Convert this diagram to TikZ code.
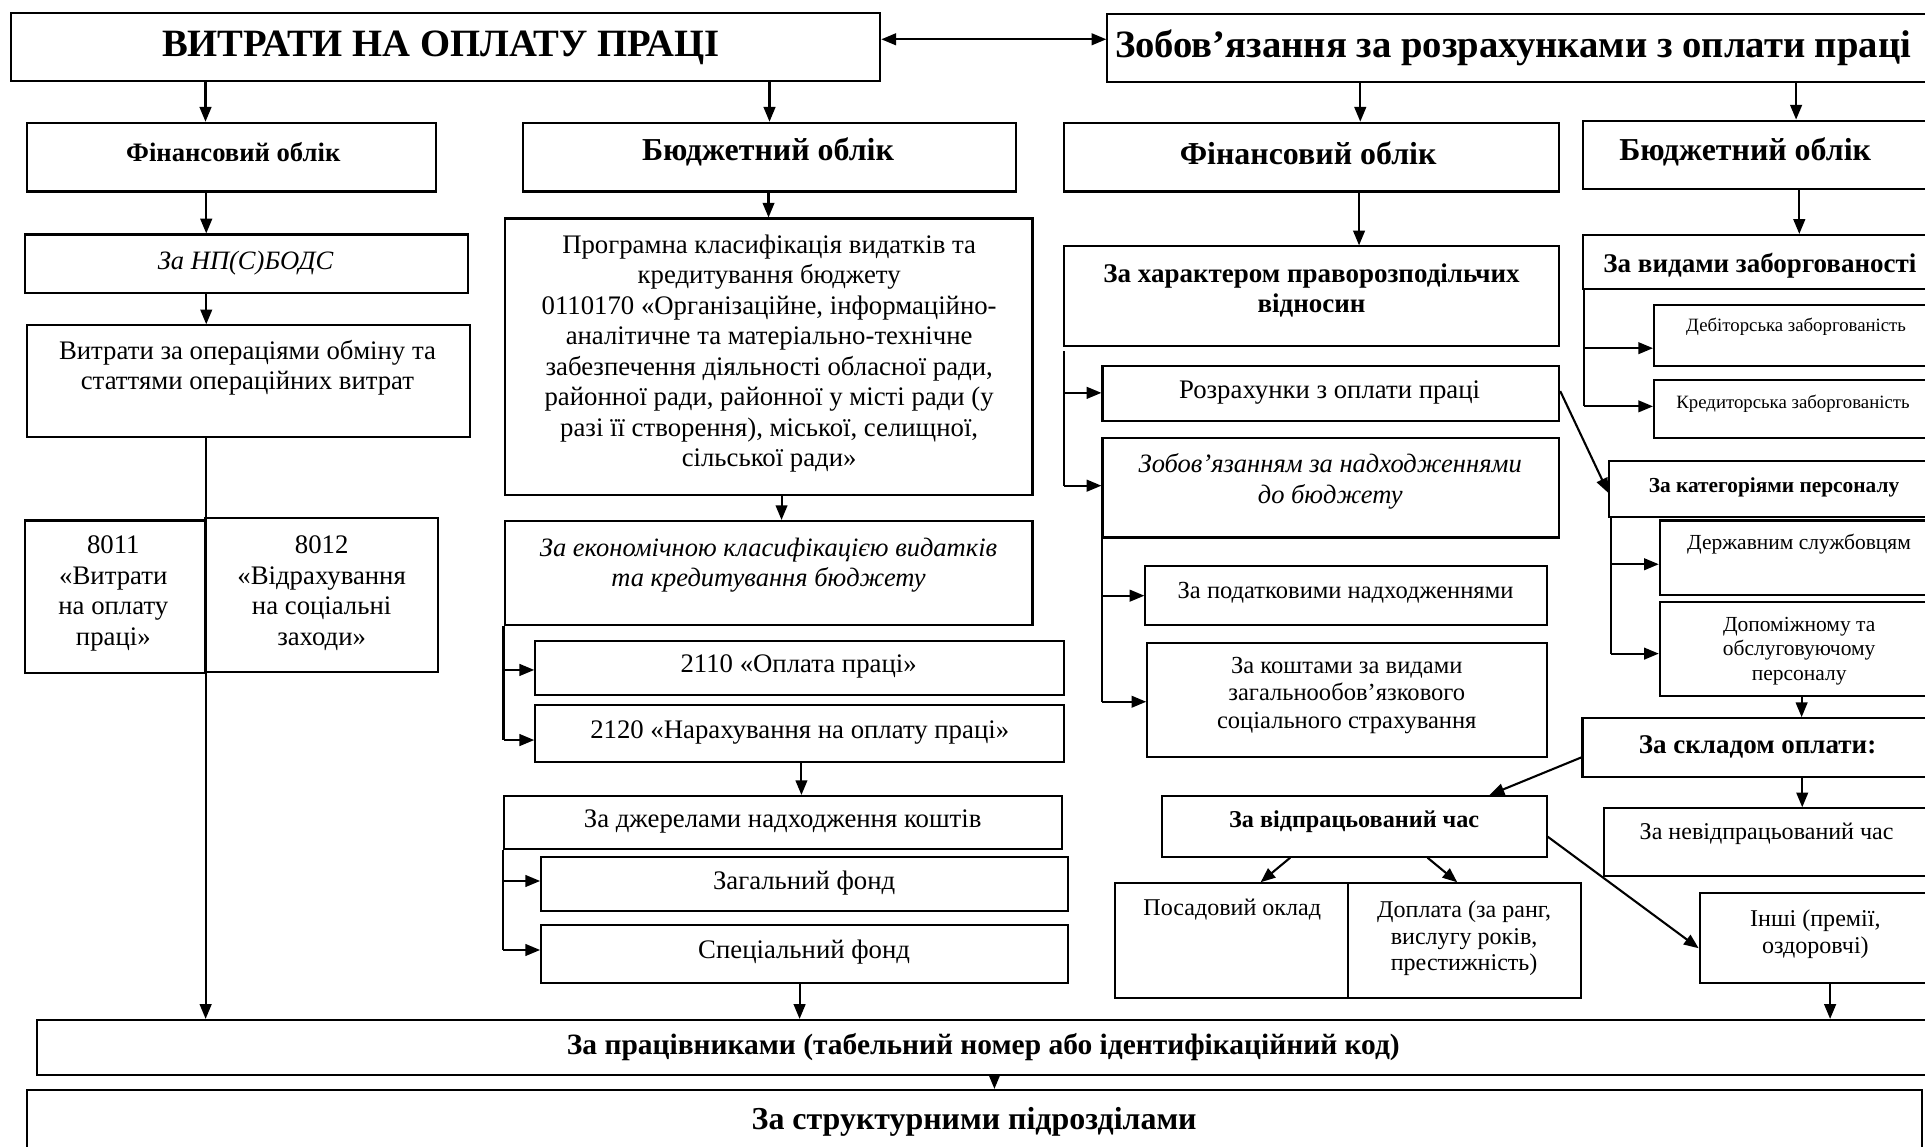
\documentclass[tikz,border=0pt]{standalone}
\usepackage{fontspec}
\setmainfont{Liberation Serif}
\usetikzlibrary{arrows.meta,fit}

\tikzset{
  box/.style={draw, line width=1.7pt, inner sep=0pt},
  ln/.style={line width=1.7pt},
  arr/.style={line width=1.7pt, -{Triangle[length=12pt,width=9.5pt]}},
  darr/.style={line width=1.7pt, {Triangle[length=12pt,width=9.5pt]}-{Triangle[length=12pt,width=9.5pt]}},
  txt/.style={inner sep=0pt, align=center},
  ttitle/.style={txt, font=\fontsize{31.5}{36}\bfseries\selectfont},
  thead/.style={txt, font=\fontsize{26}{30}\bfseries\selectfont},
  theads/.style={txt, font=\fontsize{21.7}{25}\bfseries\selectfont},
  tbold/.style={txt, font=\fontsize{22}{24.8}\bfseries\selectfont},
  tboldm/.style={txt, font=\fontsize{24}{27}\bfseries\selectfont},
  tboldn/.style={txt, font=\fontsize{19.7}{22}\bfseries\selectfont},
  tbolds/.style={txt, font=\fontsize{17.4}{20}\bfseries\selectfont},
  treg/.style={txt, font=\fontsize{21.8}{24.8}\selectfont},
  tit/.style={txt, font=\fontsize{21.6}{24.8}\itshape\selectfont},
  tmid/.style={txt, font=\fontsize{20}{22.5}\selectfont},
  tsm/.style={txt, font=\fontsize{19.6}{21.7}\selectfont},
  tsmm/.style={txt, font=\fontsize{17.5}{20}\selectfont},
  txs/.style={txt, font=\fontsize{15.3}{18}\selectfont},
}
% a framed box given by its two corners
\newcommand\frbox[5]{\node[box, fit={(#2,#3) (#4,#5)}] (#1) {};}

\begin{document}
\begin{tikzpicture}[x=1pt, y=-1pt]
\useasboundingbox (0,0) rectangle (1568,934);
\clip (0,0) rectangle (1568,934);

% ---- boxes ----
\frbox{A}{8.6}{10.3}{717}{65.7}
\frbox{B}{902}{11.4}{1574}{66.5}
\frbox{C}{21.7}{100}{355}{156}
\frbox{D}{425.7}{100}{827.4}{156}
\frbox{E}{866.6}{100}{1270}{156}
\frbox{F}{1289.5}{98.3}{1580}{154}
\frbox{G}{20}{191}{381}{239}
\frbox{H}{22}{265}{383}{356}
\frbox{K8011}{20}{424}{167}{548}
\frbox{K8012}{167}{422}{357}{547}
\frbox{I}{411}{178}{841}{403}
\frbox{J}{411}{424.4}{841}{509}
\frbox{K}{436}{521.8}{866.4}{566}
\frbox{L}{436}{574}{866.4}{620.4}
\frbox{M}{410.3}{648.4}{865.4}{691.8}
\frbox{N}{440.8}{697.8}{870}{741.8}
\frbox{O}{440.8}{753.4}{870}{800.4}
\frbox{P}{30}{830.8}{1574}{875.6}
\frbox{Q}{22}{887.8}{1565.3}{960}
\frbox{R}{866.7}{200.7}{1270}{282.2}
\frbox{S}{898}{298}{1270}{342.7}
\frbox{T}{898}{356.4}{1270}{437.8}
\frbox{U}{933}{461}{1260}{509}
\frbox{V}{934.5}{523.6}{1260}{616.5}
\frbox{W}{1289.2}{191.4}{1580}{235.5}
\frbox{X}{1347.3}{248.8}{1580}{298}
\frbox{Y}{1347.3}{309.8}{1580}{356.4}
\frbox{Z}{1310.9}{375.8}{1580}{421}
\frbox{AA}{1352}{424}{1580}{485}
\frbox{AB}{1352}{490}{1580}{567}
\frbox{AC}{1289}{585}{1580}{633}
\frbox{AD}{1306.4}{658.4}{1580}{713.5}
\frbox{AE}{946.4}{648.4}{1259.8}{697.8}
\frbox{AF}{908.2}{719.5}{1097.9}{812.6}
\frbox{AG}{1097.9}{719.5}{1288}{812.6}
\frbox{AH}{1384.5}{727.1}{1580}{801}

% ---- texts ----
\node[ttitle] (At) at (359,39) {ВИТРАТИ НА ОПЛАТУ ПРАЦІ};
\node[ttitle] (Bt) at (1232.5,39) {Зобов’язання за розрахунками з оплати праці};
\node[theads] (Ct) at (190,124) {Фінансовий облік};
\node[thead] (Dt) at (625.6,124) {Бюджетний облік};
\node[thead] (Et) at (1065.5,125) {Фінансовий облік};
\node[thead] (Ft) at (1421.5,124) {Бюджетний облік};
\node[tit] (Gt) at (200,214.5) {За НП(С)БОДС};
\node[treg] (Ht) at (201.6,299.7) {Витрати за операціями обміну та\\статтями операційних витрат};
\node[treg] (K8011t) at (92.3,483.3) {8011\\«Витрати\\на оплату\\праці»};
\node[treg] (K8012t) at (262,483.3) {8012\\«Відрахування\\на соціальні\\заходи»};
\node[treg] (It) at (626.5,287.9) {Програмна класифікація видатків та\\кредитування бюджету\\0110170 «Організаційне, інформаційно-\\аналітичне та матеріально-технічне\\забезпечення діяльності обласної ради,\\районної ради, районної у місті ради (у\\разі її створення), міської, селищної,\\сільської ради»};
\node[tit] (Jt) at (626,460.2) {За економічною класифікацією видатків\\та кредитування бюджету};
\node[treg] (Kt) at (650.5,543) {2110 «Оплата праці»};
\node[treg] (Lt) at (651.4,597) {2120 «Нарахування на оплату праці»};
\node[treg] (Mt) at (637.5,669.3) {За джерелами надходження коштів};
\node[treg] (Nt) at (655,719.5) {Загальний фонд};
\node[treg] (Ot) at (655,775.2) {Спеціальний фонд};
\node[tboldm] (Pt) at (801,853) {За працівниками (табельний номер або ідентифікаційний код)};
\node[thead] (Qt) at (793.5,914) {За структурними підрозділами};
\node[tbold] (Rt) at (1068.3,236.4) {За характером праворозподільчих\\відносин};
\node[treg] (St) at (1083,320) {Розрахунки з оплати праці};
\node[tit] (Tt) at (1083.5,392) {Зобов’язанням за надходженнями\\до бюджету};
\node[tmid] (Ut) at (1096,483) {За податковими надходженнями};
\node[tmid] (Vt) at (1097,566.5) {За коштами за видами\\загальнообов’язкового\\соціального страхування};
\node[tbold] (Wt) at (1433.5,216.7) {За видами заборгованості};
\node[txs] (Xt) at (1463,266) {Дебіторська заборгованість};
\node[txs] (Yt) at (1460.5,328.8) {Кредиторська заборгованість};
\node[tbolds] (Zt) at (1445,397) {За категоріями персоналу};
\node[tsmm] (AAt) at (1465.4,443.6) {Державним службовцям};
\node[tsmm] (ABt) at (1465.5,530.2) {Допоміжному та\\обслуговуючому\\персоналу};
\node[tbold] (ACt) at (1431.6,608) {За складом оплати:};
\node[tsm] (ADt) at (1439,678.8) {За невідпрацьований час};
\node[tboldn] (AEt) at (1103,669.3) {За відпрацьований час};
\node[tsm] (AFt) at (1003.7,741.2) {Посадовий оклад};
\node[tsm] (AGt) at (1192.6,764.3) {Доплата (за ранг,\\вислугу років,\\престижність)};
\node[tsm] (AHt) at (1478.7,761) {Інші (премії,\\оздоровчі)};

% ---- connectors ----
\draw[darr] (A.east |- 0,32) -- (B.west |- 0,32);
\draw[arr] (A.south -| 167.4,0) -- (C.north -| 167.4,0);
\draw[arr] (A.south -| 626.8,0) -- (D.north -| 626.8,0);
\draw[arr] (B.south -| 1108,0) -- (E.north -| 1108,0);
\draw[arr] (B.south -| 1463,0) -- (F.north -| 1463,0);

% left column
\draw[arr] (C.south -| 168,0) -- (G.north -| 168,0);
\draw[arr] (G.south -| 168,0) -- (H.north -| 168,0);
\draw[arr] (H.south -| 167.5,0) -- (P.north -| 167.5,0);

% budget column
\draw[arr] (D.south -| 626,0) -- (I.north -| 626,0);
\draw[arr] (I.south -| 636.6,0) -- (J.north -| 636.6,0);
\draw[ln] (J.south west) -- (J.south west |- 0,602.8);
\draw[arr] (J.south west |- 0,545.7) -- (K.west |- 0,545.7);
\draw[arr] (J.south west |- 0,602.8) -- (L.west |- 0,602.8);
\draw[arr] (L.south -| 652.8,0) -- (M.north -| 652.8,0);
\draw[ln] (M.south west) -- (M.south west |- 0,773.8);
\draw[arr] (M.south west |- 0,717.6) -- (N.west |- 0,717.6);
\draw[arr] (M.south west |- 0,773.8) -- (O.west |- 0,773.8);
\draw[arr] (O.south -| 651.3,0) -- (P.north -| 651.3,0);

% liabilities, financial accounting
\draw[arr] (E.south -| 1107,0) -- (R.north -| 1107,0);
\draw[ln] (R.south west) ++(1,3) coordinate (rb) -- (rb |- 0,395.6);
\draw[arr] (rb |- 0,320) -- (S.west |- 0,320);
\draw[arr] (rb |- 0,395.6) -- (T.west |- 0,395.6);
\draw[ln] (T.south west) ++(0.7,-7) coordinate (tb) -- (tb |- 0,571.6);
\draw[arr] (tb |- 0,485.2) -- (U.west |- 0,485.2);
\draw[arr] (tb |- 0,571.6) -- (V.west |- 0,571.6);
\draw[arr] (S.east |- 0,318.5) -- (Z.west |- 0,401.5);

% liabilities, budget accounting
\draw[arr] (F.south -| 1465.6,0) -- (W.north -| 1465.6,0);
\draw[ln] (W.south west) ++(1.8,0) coordinate (wb) -- (wb |- 0,331);
\draw[arr] (wb |- 0,283.6) -- (X.west |- 0,283.6);
\draw[arr] (wb |- 0,331) -- (Y.west |- 0,331);
\draw[ln] (Z.south west) ++(1.9,0) coordinate (zb) -- (zb |- 0,532.4);
\draw[arr] (zb |- 0,459.6) -- (AA.west |- 0,459.6);
\draw[arr] (zb |- 0,532.4) -- (AB.west |- 0,532.4);
\draw[arr] (AB.south -| 1467.5,0) -- (AC.north -| 1467.5,0);
\draw[arr] (AC.south -| 1468,0) -- (AD.north -| 1468,0);
\draw[arr] (AC.west |- 0,616.9) -- (AE.north -| 1213.3,0);
\draw[arr] (AE.south -| 1050.9,0) -- (AF.north -| 1026.8,0);
\draw[arr] (AE.south -| 1162.8,0) -- (AG.north -| 1187,0);
\draw[arr] (AE.east |- 0,681.5) -- (AH.west |- 0,772.4);
\draw[arr] (AH.south -| 1490.7,0) -- (P.north -| 1490.7,0);

% bottom
\draw[arr] (P.south -| 810,0) -- (Q.north -| 810,0);
\end{tikzpicture}
\end{document}
